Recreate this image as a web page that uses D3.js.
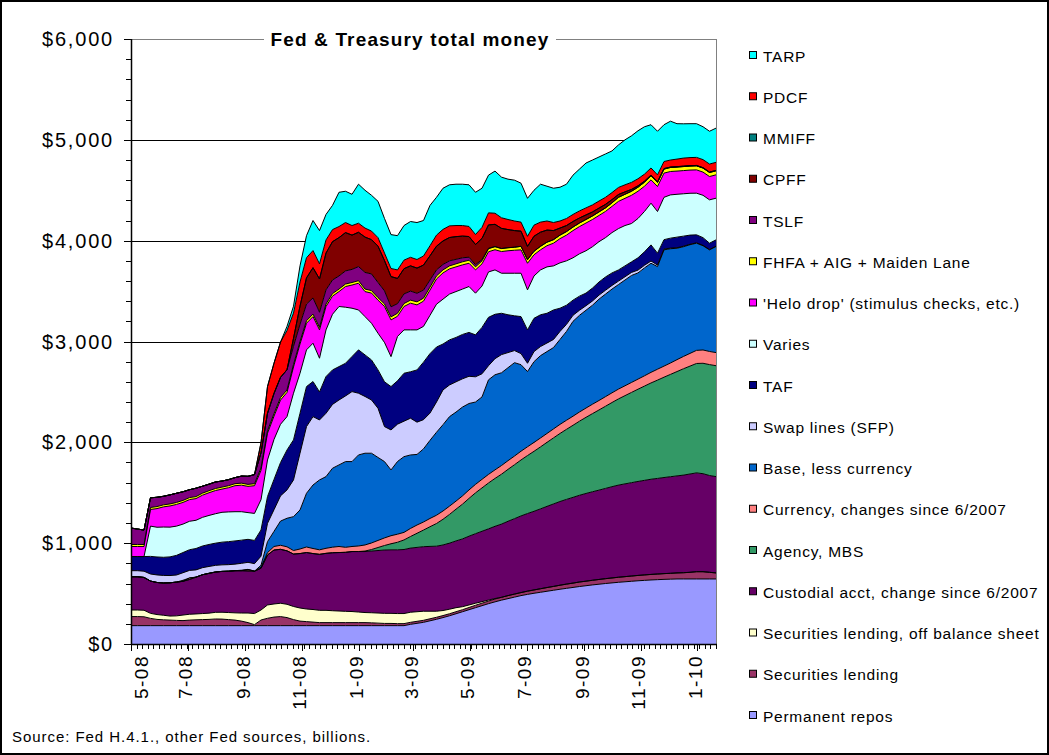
<!DOCTYPE html>
<html>
<head>
<meta charset="utf-8">
<script src="https://cdnjs.cloudflare.com/ajax/libs/d3/7.8.5/d3.min.js"></script>
<style>
  html, body { margin: 0; padding: 0; background: #fff; }
  svg { display: block; font-family: "Liberation Sans", Arial, sans-serif; }
</style>
</head>
<body>
<svg id="chart" width="1049" height="755"></svg>
<script>
// Weekly H.4.1 observations, May 2008 - Jan 2010 (billions of dollars)
const firstWeek = new Date(2008, 4, 7);
const weekCount = 91;
const weeks = d3.range(weekCount).map(i => d3.timeDay.offset(firstWeek, 7 * i));

const permanentRepos = [
  182,182,182,182,182,182,182,182,182,182, 182,182,182,182,182,182,182,182,182,182,
  182,182,182,182,182,182,182,182,182,182, 182,182,182,182,182,182,182,182,182,182,
  182,182,182,195,205,215,230,245,262,280, 300,320,340,360,380,400,418,435,450,465,
  480,492,503,513,523,533,543,552,561,570, 578,586,593,600,606,612,617,622,627,631,
  635,638,641,643,645,645,645,645,645,645,645
];
const secLending = [
  90,90,88,72,62,58,55,52,50,55, 58,60,62,66,65,60,55,45,30,10,
  56,73,85,90,80,60,45,40,35,30, 30,30,30,30,30,30,30,28,25,22,
  22,20,20,20,20,20,20,20,20,20, 20,20,22,24,25,26,28,28,30,30,
  30,32,33,35,37,38,40,42,43,45, 45,46,47,48,49,50,51,52,53,54,
  55,56,57,58,60,62,66,72,72,66,60
];
const secLendingOffBalance = [
  65,65,65,50,48,45,40,45,55,58, 58,60,62,66,68,70,72,80,95,110,
  99,132,130,132,132,130,130,125,125,122, 122,118,115,112,110,105,100,100,100,100,
  100,100,100,100,95,90,75,60,50,45, 40,30,25,20,15,10,5,0,0,0,
  0,0,0,0,0,0,0,0,0,0, 0,0,0,0,0,0,0,0,0,0,
  0,0,0,0,0,0,0,0,0,0,0
];
const custodialAcct = [
  330,330,325,320,318,320,330,335,335,345, 365,385,395,400,405,410,418,420,418,420,
  414,496,535,535,530,520,540,560,555,555, 565,575,580,585,595,600,605,612,620,628,
  630,632,635,636,638,640,643,645,650,655, 662,672,682,690,698,706,716,726,737,748,
  760,770,780,792,805,818,830,840,850,860, 870,878,886,895,905,914,920,926,932,938,
  944,948,953,958,962,968,975,980,972,960,955
];
const agencyMbs = [
  0,0,0,0,0,0,0,0,0,0, 0,0,0,0,0,0,0,0,0,0,
  0,0,0,0,0,0,0,0,0,0, 0,0,0,0,0,0,5,15,30,45,
  60,75,95,115,140,165,195,225,255,285, 315,345,375,405,430,455,475,495,515,535,
  555,575,595,615,635,655,675,695,715,735, 755,775,795,815,835,855,875,895,915,935,
  955,975,995,1015,1035,1055,1070,1085,1095,1100,1100
];
const currencyChange = [
  0,0,0,0,0,0,0,0,0,15, 0,0,0,0,0,0,0,0,15,0,
  10,23,35,40,40,35,45,55,50,45, 50,55,60,50,50,55,60,65,70,75,
  80,80,75,80,82,80,82,82,82,82, 80,82,84,84,85,85,85,86,86,86,
  87,87,88,88,88,89,90,90,90,91, 92,93,94,95,96,97,98,99,100,102,
  105,108,110,113,118,122,126,130,132,130,130
];
const baseLessCurrency = [
  0,0,0,0,0,0,0,0,10,0, 0,0,0,0,0,0,0,5,0,0,
  20,109,150,240,283,336,387,533,630,693, 711,783,809,850,842,903,910,890,823,757,
  652,721,751,729,700,725,775,823,856,888, 883,881,857,817,817,938,943,920,922,926,
  858,746,801,817,812,807,842,881,941,959, 970,982,1005,1017,1029,1037,1049,1061,1053,1070,
  1082,1018,1153,1133,1105,1088,1078,1063,1034,1008,1052
];
const swapLines = [
  60,60,62,70,75,75,72,70,75,75, 72,70,68,66,65,65,65,68,70,75,
  90,182,215,250,281,364,563,661,678,595, 628,633,644,651,694,612,563,528,488,347,
  397,370,352,364,320,290,270,300,345,314, 300,280,270,250,230,140,160,180,150,120,
  110,82,100,90,85,80,80,70,60,50, 45,42,40,38,36,34,32,30,28,26,
  22,15,8,6,5,5,4,4,3,3,3
];
const taf = [
  140,140,145,175,178,180,185,195,200,205, 212,215,218,220,225,228,230,230,228,230,
  260,265,300,330,396,397,396,397,348,278, 364,342,331,324,348,430,412,397,380,444,
  430,430,475,461,518,570,590,545,455,447, 440,440,435,416,460,480,440,410,375,345,
  367,331,330,315,295,293,230,190,150,140, 125,128,130,132,124,111,108,105,122,134,
  160,118,93,99,105,100,91,79,77,63,63
];
const varies = [
  0,0,0,300,295,300,295,290,282,282, 280,284,288,292,296,295,290,282,265,268,
  300,363,397,380,331,463,397,364,380,334, 463,552,596,556,479,396,380,364,364,390,
  297,440,430,415,397,355,380,425,445,454, 455,450,455,413,410,450,440,397,412,422,
  430,397,420,445,460,437,450,440,420,420, 420,410,400,390,400,410,400,380,390,400,
  414,413,420,429,425,420,415,413,420,430,413
];
const heloDrop = [
  100,100,100,165,185,200,210,215,215,215, 215,220,225,230,230,240,258,263,260,275,
  290,265,231,240,240,260,290,264,264,281, 232,180,148,205,230,265,248,299,328,357,
  364,200,232,265,248,250,250,250,260,250, 245,240,231,231,220,200,200,215,223,228,
  232,264,210,199,210,225,240,255,270,270, 275,270,260,260,260,270,270,280,270,250,
  231,248,240,232,230,230,230,231,230,231,232
];
const fhfaAigMaidenLane = [
  20,20,20,20,20,20,20,20,20,20, 20,20,20,20,20,20,20,20,20,20,
  25,25,25,25,25,25,25,25,25,25, 25,25,25,25,25,25,25,25,25,25,
  30,30,30,30,30,30,30,30,30,30, 30,30,30,30,30,30,30,30,30,30,
  35,35,35,35,35,35,35,35,35,35, 35,35,35,35,35,40,40,40,40,40,
  40,40,40,40,40,40,40,40,40,40,40
];
const tslf = [
  163,153,143,96,92,85,90,91,86,78, 83,69,65,65,60,60,60,70,80,90,
  150,173,200,200,200,180,170,165,160,150, 140,135,130,130,130,140,165,165,150,130,
  100,95,95,90,85,80,70,60,55,50, 45,40,30,22,12,5,2,0,0,0,
  0,0,0,0,0,0,0,0,0,0, 0,0,0,0,0,0,0,0,0,0,
  0,0,0,0,0,0,0,0,0,0,0
];
const cpff = [
  0,0,0,0,0,0,0,0,0,0, 0,0,0,0,0,0,0,0,0,0,
  0,0,0,0,0,80,180,260,300,330, 365,380,380,380,340,340,350,340,360,300,
  300,250,250,250,250,248,240,235,232,231, 225,215,205,200,210,231,220,200,180,165,
  150,132,149,140,120,90,70,60,55,50, 45,40,38,35,32,28,24,18,14,10,
  8,6,5,4,4,4,4,4,4,4,4
];
const mmiff = [
  0,0,0,0,0,0,0,0,0,0, 0,0,0,0,0,0,0,0,0,0,
  0,0,0,0,0,0,0,0,0,0, 0,0,0,0,0,0,0,0,0,0,
  0,0,0,0,0,0,0,0,0,0, 0,0,0,0,0,0,0,0,0,0,
  0,0,0,0,0,0,0,0,0,0, 0,0,0,0,0,0,0,0,0,0,
  0,0,0,0,0,0,0,0,0,0,0
];
const pdcf = [
  0,0,0,0,0,0,0,0,0,0, 0,0,0,0,0,0,0,0,0,0,
  100,265,300,350,390,250,240,200,170,150, 130,120,110,100,95,90,90,85,85,75,
  80,85,85,85,85,90,100,110,115,116, 110,105,100,99,110,120,110,105,100,95,
  90,100,110,100,90,80,70,70,70,70, 70,70,70,70,70,70,70,70,70,70,
  70,70,70,70,75,80,80,80,80,80,80
];
const tarp = [
  0,0,0,0,0,0,0,0,0,0, 0,0,0,0,0,0,0,0,0,0,
  0,0,0,0,40,68,160,219,298,330, 253,240,340,310,310,387,375,355,360,343,
  336,340,343,355,367,352,400,375,408,407, 410,410,413,419,388,374,418,403,400,405,
  386,377,346,376,345,340,335,340,390,415, 445,445,437,430,413,422,446,462,476,470,
  429,432,365,385,351,340,336,334,326,325,339
];

// Series, stacked from the bottom up
const seriesNames = [
  "Permanent repos",
  "Securities lending",
  "Securities lending, off balance sheet",
  "Custodial acct, change since 6/2007",
  "Agency, MBS",
  "Currency, changes since 6/2007",
  "Base, less currency",
  "Swap lines (SFP)",
  "TAF",
  "Varies",
  "'Helo drop' (stimulus checks, etc.)",
  "FHFA + AIG + Maiden Lane",
  "TSLF",
  "CPFF",
  "MMIFF",
  "PDCF",
  "TARP"
];
const seriesValues = [
  permanentRepos, secLending, secLendingOffBalance, custodialAcct, agencyMbs,
  currencyChange, baseLessCurrency, swapLines, taf, varies, heloDrop,
  fhfaAigMaidenLane, tslf, cpff, mmiff, pdcf, tarp
];
const seriesColors = [
  "#9999FF", "#993366", "#FFFFCC", "#660066", "#339966",
  "#FF8080", "#0066CC", "#CCCCFF", "#000080", "#CCFFFF", "#FF00FF",
  "#FFFF00", "#800080", "#800000", "#008080", "#FF0000", "#00FFFF"
];
const yTickValues = [0, 1000, 2000, 3000, 4000, 5000, 6000];
const titleText = "Fed & Treasury total money";
const sourceText = "Source: Fed H.4.1., other Fed sources, billions.";

const svg = d3.select("#chart");
const W = 1049, H = 755;
const plot = { left: 131, right: 716, top: 39, bottom: 644 };

svg.append("rect").attr("x", 0).attr("y", 0).attr("width", W).attr("height", H).attr("fill", "#fff");

const x = d3.scaleTime().domain([weeks[0], weeks[weeks.length - 1]]).range([plot.left, plot.right]);
const y = d3.scaleLinear().domain([0, 6000]).range([plot.bottom, plot.top]);

// horizontal gridlines (behind the areas)
svg.append("g").selectAll("line")
  .data(yTickValues.filter(v => v > 0 && v < 6000))
  .join("line")
  .attr("x1", plot.left).attr("x2", plot.right)
  .attr("y1", d => Math.round(y(d)) + 0.5).attr("y2", d => Math.round(y(d)) + 0.5)
  .attr("stroke", "#000").attr("stroke-width", 1);

// stacked areas
const rows = weeks.map((d, i) => {
  const r = { date: d };
  seriesNames.forEach((k, j) => { r[k] = seriesValues[j][i]; });
  return r;
});
const stacked = d3.stack().keys(seriesNames)(rows);

const area = d3.area()
  .x(d => x(d.data.date))
  .y0(d => y(d[0]))
  .y1(d => y(d[1]));
const topLine = d3.line()
  .x(d => x(d.data.date))
  .y(d => y(d[1]));

const gAreas = svg.append("g");
gAreas.selectAll("path.fill")
  .data(stacked)
  .join("path")
  .attr("class", "fill")
  .attr("d", area)
  .attr("fill", (d, i) => seriesColors[i]);
gAreas.selectAll("path.edge")
  .data(stacked)
  .join("path")
  .attr("class", "edge")
  .attr("d", topLine)
  .attr("fill", "none")
  .attr("stroke", "#000")
  .attr("stroke-width", 1)
  .attr("stroke-linejoin", "round");

// plot area border
svg.append("rect")
  .attr("x", plot.left + 0.5).attr("y", plot.top + 0.5)
  .attr("width", plot.right - plot.left).attr("height", plot.bottom - plot.top)
  .attr("fill", "none").attr("stroke", "#808080").attr("stroke-width", 1);

// y axis
const yAxis = svg.append("g");
yAxis.append("line")
  .attr("x1", plot.left + 0.5).attr("x2", plot.left + 0.5)
  .attr("y1", plot.top).attr("y2", plot.bottom + 1)
  .attr("stroke", "#000").attr("stroke-width", 1.5);
yAxis.selectAll("line.minor")
  .data(d3.range(0, 6001, 200))
  .join("line")
  .attr("class", "minor")
  .attr("x1", d => yTickValues.includes(d) ? plot.left - 7 : plot.left - 5)
  .attr("x2", plot.left)
  .attr("y1", d => Math.round(y(d)) + 0.5).attr("y2", d => Math.round(y(d)) + 0.5)
  .attr("stroke", "#000").attr("stroke-width", 1);
const dollar = d3.format(",");
yAxis.selectAll("text")
  .data(yTickValues)
  .join("text")
  .attr("x", 114)
  .attr("y", d => y(d) + 7)
  .attr("text-anchor", "end")
  .attr("font-size", 20)
  .attr("letter-spacing", 1.8)
  .attr("fill", "#000")
  .text(d => "$" + dollar(d));

// x axis
const xAxis = svg.append("g");
xAxis.append("line")
  .attr("x1", plot.left).attr("x2", plot.right + 1)
  .attr("y1", plot.bottom + 0.5).attr("y2", plot.bottom + 0.5)
  .attr("stroke", "#000").attr("stroke-width", 1.5);
const endDate = weeks[weeks.length - 1];
const minorTicks = d3.range(0, 700, 6).map(n => d3.timeDay.offset(firstWeek, n)).filter(d => d <= endDate);
xAxis.selectAll("line.minor")
  .data(minorTicks)
  .join("line")
  .attr("class", "minor")
  .attr("x1", d => Math.round(x(d)) + 0.5).attr("x2", d => Math.round(x(d)) + 0.5)
  .attr("y1", plot.bottom).attr("y2", plot.bottom + 5)
  .attr("stroke", "#000").attr("stroke-width", 1);
const majorTicks = d3.range(0, 11).map(k => d3.timeMonth.offset(firstWeek, 2 * k)).filter(d => d <= endDate);
xAxis.selectAll("line.major")
  .data(majorTicks)
  .join("line")
  .attr("class", "major")
  .attr("x1", d => Math.round(x(d)) + 0.5).attr("x2", d => Math.round(x(d)) + 0.5)
  .attr("y1", plot.bottom).attr("y2", plot.bottom + 7)
  .attr("stroke", "#000").attr("stroke-width", 1);
const monthFmt = d3.timeFormat("%-m-%y");
xAxis.selectAll("text")
  .data(majorTicks)
  .join("text")
  .attr("transform", d => `translate(${Math.max(x(d) - 2, 141)},${plot.bottom + 11}) rotate(-90)`)
  .attr("text-anchor", "end")
  .attr("dominant-baseline", "central")
  .attr("font-size", 19)
  .attr("letter-spacing", 1.5)
  .attr("fill", "#000")
  .text(d => monthFmt(d));

// title over the top border
const title = svg.append("g");
title.append("rect")
  .attr("x", 264).attr("y", 28).attr("width", 292).attr("height", 24)
  .attr("fill", "#fff");
title.append("text")
  .attr("x", 410).attr("y", 46)
  .attr("text-anchor", "middle")
  .attr("font-size", 19)
  .attr("font-weight", "bold")
  .attr("letter-spacing", 1.15)
  .attr("fill", "#000")
  .text(titleText);

// legend, top entry = top of stack
const legend = svg.append("g");
const legendItems = seriesNames.map((n, i) => ({ name: n, color: seriesColors[i] })).reverse();
const legendRow = legend.selectAll("g")
  .data(legendItems)
  .join("g")
  .attr("transform", (d, i) => `translate(0,${56 + i * 41.25})`);
legendRow.append("rect")
  .attr("x", 749.5).attr("y", -4.5).attr("width", 7).attr("height", 7)
  .attr("fill", d => d.color).attr("stroke", "#000").attr("stroke-width", 1);
legendRow.append("text")
  .attr("x", 763).attr("y", 5.5)
  .attr("font-size", 15.5)
  .attr("letter-spacing", 0.75)
  .attr("fill", "#000")
  .text(d => d.name);

// source note
svg.append("text")
  .attr("x", 12).attr("y", 742)
  .attr("font-size", 15)
  .attr("letter-spacing", 0.95)
  .attr("fill", "#000")
  .text(sourceText);

// chart frame
svg.append("rect")
  .attr("x", 1).attr("y", 1).attr("width", W - 2).attr("height", H - 2)
  .attr("fill", "none").attr("stroke", "#000").attr("stroke-width", 2);
</script>
</body>
</html>
